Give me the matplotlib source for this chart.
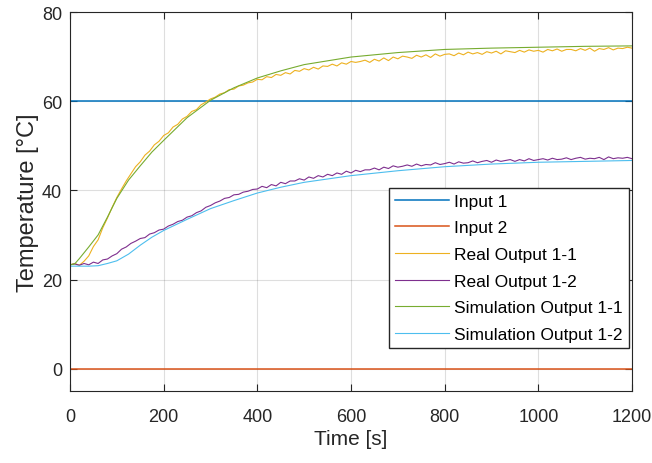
import numpy as np
import matplotlib
matplotlib.use('Agg')
import matplotlib.pyplot as plt

# measured step response, sampled every 10 s
t_real = np.arange(0, 1201, 10)
real_11 = [
    23.3, 23.6, 23.2, 24.1, 25.3, 27.4, 28.9, 31.6, 33.8, 36.2,
    38.4, 40.3, 42.1, 43.7, 45.3, 46.4, 47.9, 48.8, 50.2, 51.0,
    52.3, 52.9, 54.2, 54.8, 56.0, 56.6, 57.7, 58.1, 59.2, 59.8,
    60.5, 60.9, 61.6, 61.9, 62.6, 62.7, 63.4, 63.6, 64.1, 64.3,
    64.9, 64.8, 65.5, 65.3, 66.0, 65.8, 66.4, 66.1, 66.9, 66.7,
    67.3, 67.0, 67.6, 67.2, 67.9, 67.8, 68.3, 67.9, 68.6, 68.3,
    68.9, 68.7, 68.9, 69.2, 68.7, 69.4, 69.0, 69.7, 69.1, 69.9,
    69.5, 70.1, 69.9, 69.6, 70.3, 69.9, 70.4, 69.8, 70.6, 70.1,
    70.5, 70.6, 70.2, 70.8, 70.4, 71.0, 70.6, 70.9, 70.5, 71.1,
    70.8, 71.2, 70.6, 71.3, 71.1, 70.9, 71.4, 71.0, 71.5, 71.2,
    71.4, 71.0, 71.6, 71.3, 71.7, 71.2, 71.6, 71.6, 71.3, 71.8,
    71.4, 71.9, 71.2, 71.8, 71.6, 72.0, 71.5, 71.9, 71.8, 72.1,
    71.9,
]
real_12 = [
    23.3, 23.5, 23.2, 23.6, 23.3, 23.9, 23.6, 24.4, 24.6, 25.3,
    25.8, 26.8, 27.3, 28.1, 28.6, 29.2, 29.4, 30.2, 30.5, 31.1,
    31.3, 32.0, 32.4, 33.0, 33.3, 34.0, 34.3, 35.0, 35.4, 36.2,
    36.6, 37.2, 37.6, 38.2, 38.4, 39.0, 39.1, 39.6, 39.8, 40.2,
    40.3, 40.9, 40.6, 41.3, 41.0, 41.8, 41.5, 42.1, 42.1, 42.6,
    42.3, 43.0, 42.7, 43.3, 43.0, 43.6, 43.3, 43.9, 43.6, 44.3,
    43.9, 44.5, 44.2, 44.6, 44.6, 45.0, 44.6, 45.2, 44.9, 45.5,
    45.2, 45.4, 45.7, 45.4, 45.9, 45.5, 45.8, 45.7, 46.2, 45.8,
    46.0, 46.3, 45.9, 46.4, 46.1, 46.2, 46.6, 46.2, 46.5, 46.7,
    46.3, 46.8, 46.5, 46.7, 46.9, 46.5, 46.9, 46.6, 47.1, 46.7,
    46.9, 47.1, 46.8, 47.2, 46.9, 47.0, 47.3, 46.9, 47.2, 47.4,
    47.0, 47.2, 47.1, 47.4, 46.9, 47.5, 47.1, 47.3, 47.2, 47.4,
    47.1,
]

# model output
t_sim = [0, 10, 20, 40, 60, 80, 100, 125, 150, 175, 200, 250, 300,
         350, 400, 450, 500, 600, 700, 800, 900, 1000, 1100, 1200]
sim_11 = [23.3, 23.5, 24.7, 27.3, 30.0, 34.0, 38.2, 42.3, 45.5, 48.6,
          51.2, 56.3, 60.2, 63.0, 65.2, 66.8, 68.2, 69.9, 70.9, 71.6,
          71.9, 72.1, 72.3, 72.4]
sim_12 = [23.0, 23.0, 23.0, 23.0, 23.1, 23.6, 24.2, 25.7, 27.7, 29.5,
          31.0, 33.5, 35.9, 37.7, 39.4, 40.7, 41.8, 43.3, 44.4, 45.3,
          45.9, 46.3, 46.5, 46.7]

t_in = [0, 1200]
input_1 = [60, 60]
input_2 = [0, 0]

plt.rcParams['font.family'] = ['Liberation Sans', 'DejaVu Sans']
dark = (0.15, 0.15, 0.15)

fig = plt.figure(figsize=(6.52, 4.64), dpi=100)
ax = fig.add_axes([70 / 652, 72 / 464, 562 / 652, 379 / 464])

ax.plot(t_in, input_1, color=(0, 0.447, 0.741), lw=1.1, label='Input 1')
ax.plot(t_in, input_2, color=(0.85, 0.325, 0.098), lw=1.1, label='Input 2')
ax.plot(t_real, real_11, color=(0.929, 0.694, 0.125), lw=0.8, label='Real Output 1-1')
ax.plot(t_real, real_12, color=(0.494, 0.184, 0.556), lw=0.8, label='Real Output 1-2')
ax.plot(t_sim, sim_11, color=(0.466, 0.674, 0.188), lw=0.8, label='Simulation Output 1-1')
ax.plot(t_sim, sim_12, color=(0.301, 0.745, 0.933), lw=0.8, label='Simulation Output 1-2')

ax.set_xlim(0, 1200)
ax.set_ylim(-5, 80)
ax.set_xticks(range(0, 1201, 200))
ax.set_yticks(range(0, 81, 20))
ax.grid(True, color=dark, alpha=0.15, lw=0.8)
ax.set_axisbelow(True)
ax.tick_params(direction='in', top=True, right=True, length=5, width=0.8,
               colors=dark, labelsize=13)
ax.tick_params(axis='x', pad=12)
ax.tick_params(axis='y', pad=5.8)
for s in ax.spines.values():
    s.set_color(dark)
    s.set_linewidth(0.8)

ax.set_xlabel('Time [s]', fontsize=15, color=dark, labelpad=3)
ax.set_ylabel('Temperature [°C]', fontsize=17, color=dark, labelpad=2)

leg = ax.legend(loc='lower right', bbox_to_anchor=(0.995, 0.1135), fontsize=12.5,
                fancybox=False, framealpha=1, edgecolor=dark, borderpad=0.35,
                handlelength=3.1, handletextpad=0.3, labelspacing=0.66,
                borderaxespad=0)
leg.get_frame().set_linewidth(1.0)

fig.savefig('out.png', dpi=100)
